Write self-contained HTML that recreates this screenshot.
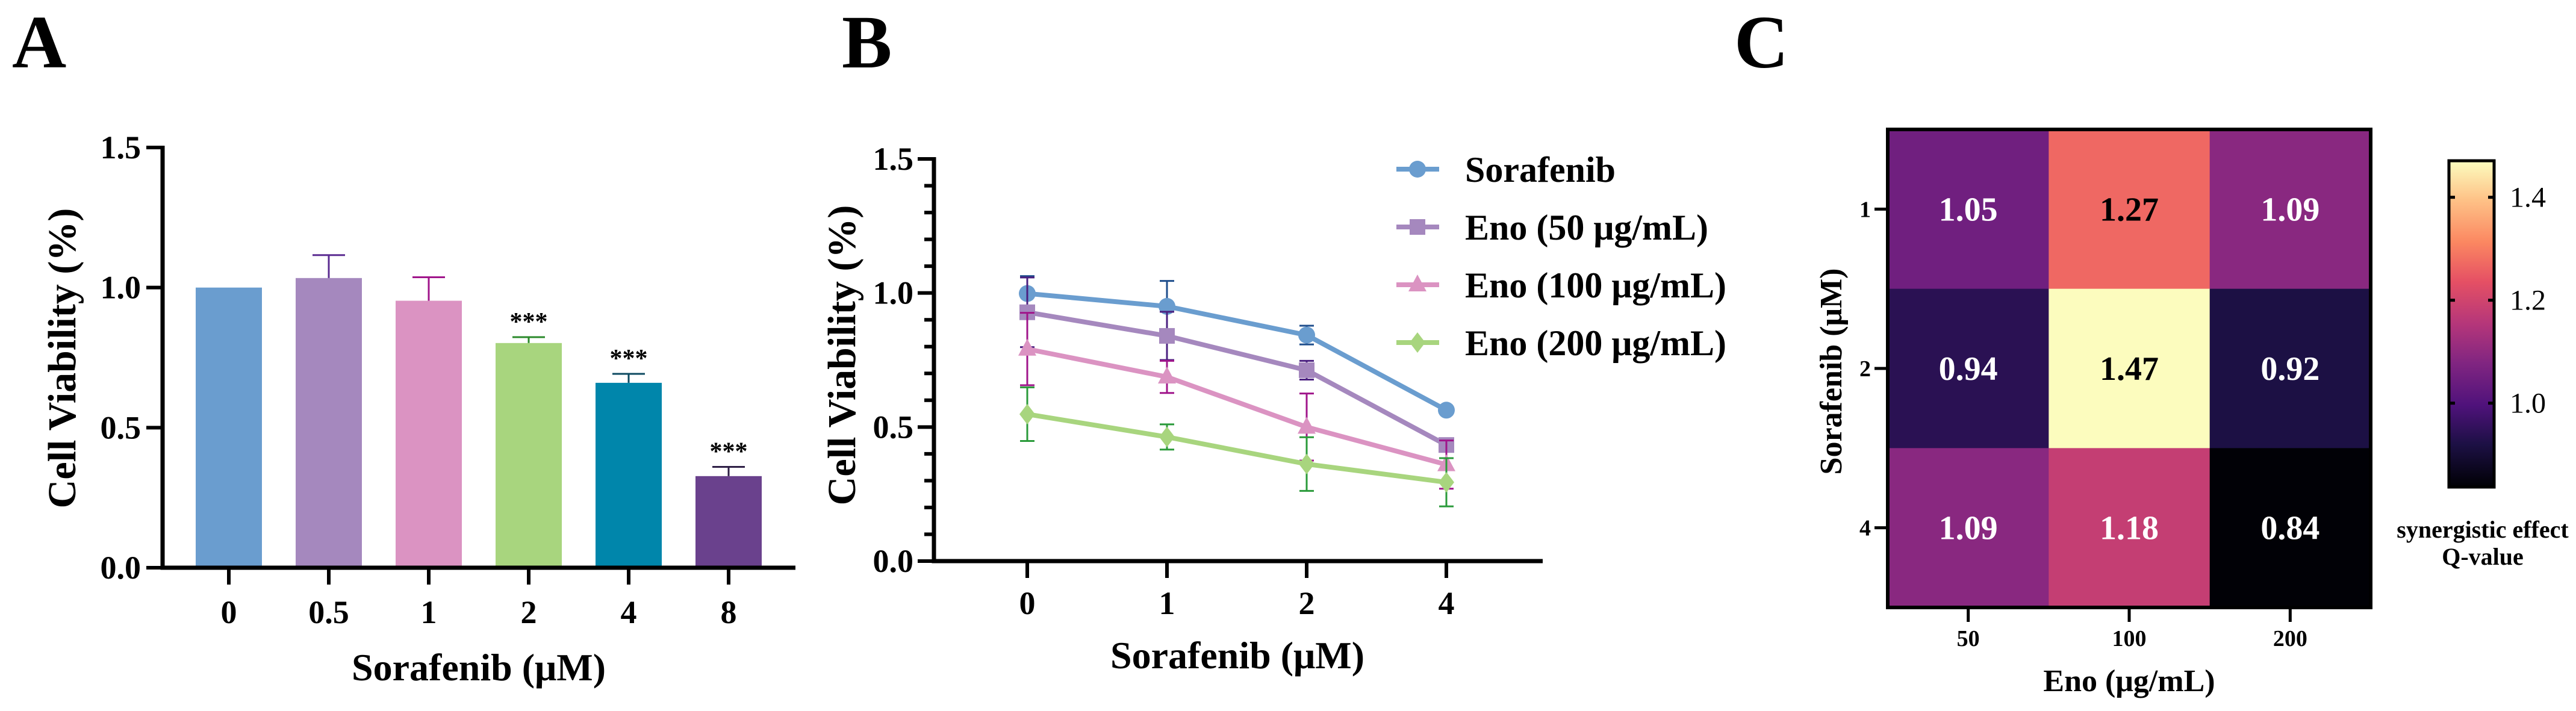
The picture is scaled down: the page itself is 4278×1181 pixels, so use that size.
<!DOCTYPE html>
<html><head><meta charset="utf-8"><style>
html,body{margin:0;padding:0;background:#fff}
svg{display:block}
text{font-family:"Liberation Serif","Times New Roman",serif;font-weight:bold}
</style></head><body>
<svg id="fig" width="4278" height="1181" viewBox="0 0 4278 1181" xmlns="http://www.w3.org/2000/svg">
<defs>
<linearGradient id="magma" x1="0" y1="1" x2="0" y2="0">
<stop offset="0" stop-color="#000004"/><stop offset="0.13" stop-color="#1c1044"/><stop offset="0.25" stop-color="#4f127b"/><stop offset="0.38" stop-color="#812581"/><stop offset="0.5" stop-color="#b5367a"/><stop offset="0.63" stop-color="#e55064"/><stop offset="0.75" stop-color="#fb8761"/><stop offset="0.88" stop-color="#fec287"/><stop offset="1" stop-color="#fcfdbf"/>
</linearGradient>
</defs>
<g id="pA"></g>
<g id="pB"></g>
<g id="pC"></g>
</svg>
<script>
// Panel A data
const barCats = ["0","0.5","1","2","4","8"];
const barVals = [1.0, 1.034, 0.953, 0.802, 0.66, 0.327];
const barErrs = [0, 0.082, 0.084, 0.021, 0.032, 0.033];
const barStars = ["","","","***","***","***"];
const aTicks = ["0.0","0.5","1.0","1.5"];
// Panel B data
const lineX = ["0","1","2","4"];
const seriesNames = ["Sorafenib","Eno (50 μg/mL)","Eno (100 μg/mL)","Eno (200 μg/mL)"];
const sSora = [0.998, 0.95, 0.843, 0.563];
const sEno50 = [0.928, 0.84, 0.712, 0.433];
const sEno100 = [0.791, 0.687, 0.50, 0.36];
const sEno200 = [0.548, 0.463, 0.362, 0.294];
const eSora = [0.065, 0.095, 0.035, 0];
const eEno50 = [0.13, 0.09, 0.035, 0];
const eEno100 = [0.135, 0.06, 0.125, 0.09];
const eEno200 = [0.1, 0.047, 0.1, 0.09];
const bTicks = ["0.0","0.5","1.0","1.5"];
// Panel C data
const hmCols = ["50","100","200"];
const hmRows = ["1","2","4"];
const hmVals = [[1.05,1.27,1.09],[0.94,1.47,0.92],[1.09,1.18,0.84]];
const cbTicks = ["1.0","1.2","1.4"];

const NS="http://www.w3.org/2000/svg";
function mk(parent,tag,attrs,txt){const e=document.createElementNS(NS,tag);for(const k in attrs)e.setAttribute(k,attrs[k]);if(txt!==undefined)e.textContent=txt;parent.appendChild(e);return e;}

// ---------- Panel A ----------
(function(){
const g=document.getElementById('pA');
const x0=270,x1=1321,yB=943,yT=245;
const y=v=>yB-(v/1.5)*(yB-yT);
const xc=i=>380+i*166;
const cols=["#6a9dcf","#a588be","#db93c2","#a8d57e","#0086ab","#6a418d"];
const ecols=["#1f4e8c","#5b2c91","#a0158b","#2a8a2a","#0d4a60","#2e1f45"];
let t=mk(g,'text',{x:20,y:112,'font-size':125},'A');


barVals.forEach((v,i)=>{
 const r=mk(g,'rect',{x:xc(i)-55,y:y(v),width:110,height:yB-y(v),fill:cols[i]});
 
 
 if(barErrs[i]>0){
  const e=mk(g,'path',{d:`M${xc(i)} ${y(v)}V${y(v+barErrs[i])}M${xc(i)-27} ${y(v+barErrs[i])}H${xc(i)+27}`,stroke:ecols[i],'stroke-width':3,fill:'none'});
  
  
 }
 if(barStars[i]){
  const s=mk(g,'text',{x:xc(i),y:y(v+barErrs[i])-12,'font-size':42,'text-anchor':'middle'},barStars[i]);
  
  
 }
 mk(g,'line',{x1:xc(i),x2:xc(i),y1:yB,y2:yB+28,stroke:'#000','stroke-width':6});
 const l=mk(g,'text',{x:xc(i),y:1035,'font-size':54,'text-anchor':'middle'},barCats[i]);
 
 
});
mk(g,'path',{d:`M${x0} ${yT-3}V${yB}H${x1}`,stroke:'#000','stroke-width':7,fill:'none'});
aTicks.forEach((tk,i)=>{const v=i*0.5;
 mk(g,'line',{x1:x0-27,x2:x0,y1:y(v),y2:y(v),stroke:'#000','stroke-width':6});
 const l=mk(g,'text',{x:x0-36,y:y(v)+18,'font-size':54,'text-anchor':'end'},tk);
 
 
});
t=mk(g,'text',{x:795,y:1130,'font-size':64,'text-anchor':'middle'},'Sorafenib (μM)');


t=mk(g,'text',{x:0,y:0,'font-size':66,'text-anchor':'middle',transform:'translate(125 595) rotate(-90)'},'Cell Viability (%)');


})();

// ---------- Panel B ----------
(function(){
const g=document.getElementById('pB');
const x0=1551,yB=932,yT=264;
const y=v=>yB-(v/1.5)*(yB-yT);
const xc=i=>1706+i*232;
const series=[sSora,sEno50,sEno100,sEno200];
const errs=[eSora,eEno50,eEno100,eEno200];
const cols=["#6a9dcf","#a588be","#db93c2","#a8d57e"];
const ecols=["#1f4e8c","#4b2080","#a0158b","#2a9a3a"];
const shapes=["circle","square","triangle","diamond"];
function marker(p,sh,cx,cy,c){
 if(sh==='circle')return mk(p,'circle',{cx:cx,cy:cy,r:14,fill:c});
 if(sh==='square')return mk(p,'rect',{x:cx-13,y:cy-13,width:26,height:26,fill:c});
 if(sh==='triangle')return mk(p,'path',{d:`M${cx} ${cy-17}L${cx+15} ${cy+11}H${cx-15}Z`,fill:c});
 return mk(p,'path',{d:`M${cx} ${cy-17}L${cx+13} ${cy}L${cx} ${cy+17}L${cx-13} ${cy}Z`,fill:c});
}
let t=mk(g,'text',{x:1398,y:112,'font-size':125},'B');


mk(g,'path',{d:`M${x0} ${yT-3}V${yB}H2562`,stroke:'#000','stroke-width':7,fill:'none'});
for(let k=0;k<=15;k++){const v=k*0.1;const maj=k%5===0;
 mk(g,'line',{x1:x0-(maj?27:16),x2:x0,y1:y(v),y2:y(v),stroke:'#000','stroke-width':6});}
bTicks.forEach((tk,i)=>{const v=i*0.5;
 const l=mk(g,'text',{x:x0-34,y:y(v)+18,'font-size':54,'text-anchor':'end'},tk);
 
 
});
lineX.forEach((c,i)=>{
 mk(g,'line',{x1:xc(i),x2:xc(i),y1:yB,y2:yB+28,stroke:'#000','stroke-width':6});
 const l=mk(g,'text',{x:xc(i),y:1020,'font-size':54,'text-anchor':'middle'},c);
 
 
});
series.forEach((s,j)=>{
 const sg=mk(g,'g',{});
 
 
 s.forEach((v,i)=>{const e=errs[j][i];if(e>0){
  const eb=mk(sg,'path',{d:`M${xc(i)} ${y(v-e)}V${y(v+e)}M${xc(i)-12} ${y(v-e)}H${xc(i)+12}M${xc(i)-12} ${y(v+e)}H${xc(i)+12}`,stroke:ecols[j],'stroke-width':3,fill:'none'});
  
  }});
 const ln=mk(sg,'polyline',{points:s.map((v,i)=>xc(i)+','+y(v)).join(' '),stroke:cols[j],'stroke-width':8,fill:'none'});
 
 
 s.forEach((v,i)=>{const m=marker(sg,shapes[j],xc(i),y(v),cols[j]);
  
  });
 const ly=281+j*96;
 const lg=mk(g,'g',{});
 
 
 mk(lg,'line',{x1:2319,x2:2390,y1:ly,y2:ly,stroke:cols[j],'stroke-width':8});
 marker(lg,shapes[j],2354,ly,cols[j]);
 mk(lg,'text',{x:2433,y:ly+21,'font-size':60},seriesNames[j]);
});
t=mk(g,'text',{x:2055,y:1110,'font-size':64,'text-anchor':'middle'},'Sorafenib (μM)');


t=mk(g,'text',{x:0,y:0,'font-size':66,'text-anchor':'middle',transform:'translate(1420 590) rotate(-90)'},'Cell Viability (%)');


})();

// ---------- Panel C ----------
(function(){
const g=document.getElementById('pC');
const L=3135,R=3937,T=215,B=1009;
const cw=(R-L)/3,ch=(B-T)/3;
const vmin=0.837,vmax=1.471;
const stops=[[0,"#000004"],[0.13,"#1c1044"],[0.25,"#4f127b"],[0.38,"#812581"],[0.5,"#b5367a"],[0.63,"#e55064"],[0.75,"#fb8761"],[0.88,"#fec287"],[1,"#fcfdbf"]];
const hx=h=>[1,3,5].map(k=>parseInt(h.substr(k,2),16));
function cmap(v){let t=Math.max(0,Math.min(1,(v-vmin)/(vmax-vmin)));
 for(let k=1;k<stops.length;k++){if(t<=stops[k][0]){const a=stops[k-1],b=stops[k];const f=(t-a[0])/(b[0]-a[0]);const ca=hx(a[1]),cb=hx(b[1]);
  return 'rgb('+ca.map((c,q)=>Math.round(c+(cb[q]-c)*f)).join(',')+')';}}
 return stops[stops.length-1][1];}
let t=mk(g,'text',{x:2880,y:112,'font-size':125},'C');


hmVals.forEach((row,r)=>row.forEach((v,c)=>{
 const cell=mk(g,'rect',{x:L+c*cw,y:T+r*ch,width:cw+0.5,height:ch+0.5,fill:cmap(v)});
 
 
 const tt=mk(g,'text',{x:L+(c+0.5)*cw,y:T+(r+0.5)*ch+19,'font-size':56,'text-anchor':'middle',fill:(v>1.2?'#000':'#fff')},v.toFixed(2));
 
 
}));
mk(g,'rect',{x:L,y:T,width:R-L,height:B-T,fill:'none',stroke:'#000','stroke-width':6});
hmRows.forEach((rl,r)=>{const yy=T+(r+0.5)*ch;
 mk(g,'line',{x1:L-22,x2:L,y1:yy,y2:yy,stroke:'#000','stroke-width':5});
 const l=mk(g,'text',{x:L-28,y:yy+13,'font-size':38,'text-anchor':'end'},rl);
 
 });
hmCols.forEach((cl,c)=>{const xx=L+(c+0.5)*cw;
 mk(g,'line',{x1:xx,x2:xx,y1:B,y2:B+24,stroke:'#000','stroke-width':5});
 const l=mk(g,'text',{x:xx,y:1073,'font-size':38,'text-anchor':'middle'},cl);
 
 });
t=mk(g,'text',{x:3536,y:1148,'font-size':52,'text-anchor':'middle'},'Eno (μg/mL)');


t=mk(g,'text',{x:0,y:0,'font-size':52,'text-anchor':'middle',transform:'translate(3058 617) rotate(-90)'},'Sorafenib (μM)');


// colorbar
const cL=4067,cR=4142,cT=267,cB=809;
const cy=v=>cB-(v-vmin)/(vmax-vmin)*(cB-cT);
const cb=mk(g,'rect',{x:cL,y:cT,width:cR-cL,height:cB-cT,fill:'url(#magma)',stroke:'#000','stroke-width':5});


cbTicks.forEach(tk=>{const v=parseFloat(tk),yy=cy(v);
 mk(g,'line',{x1:cL,x2:cL+10,y1:yy,y2:yy,stroke:'#000','stroke-width':5});
 mk(g,'line',{x1:cR-10,x2:cR,y1:yy,y2:yy,stroke:'#000','stroke-width':5});
 const l=mk(g,'text',{x:4168,y:yy+16,'font-size':48,'font-weight':'normal',style:'font-weight:normal'},tk);
 
 });
t=mk(g,'text',{x:4123,y:893,'font-size':40,'text-anchor':'middle'},'synergistic effect');


t=mk(g,'text',{x:4123,y:938,'font-size':40,'text-anchor':'middle'},'Q-value');


})();
</script>
</body></html>
